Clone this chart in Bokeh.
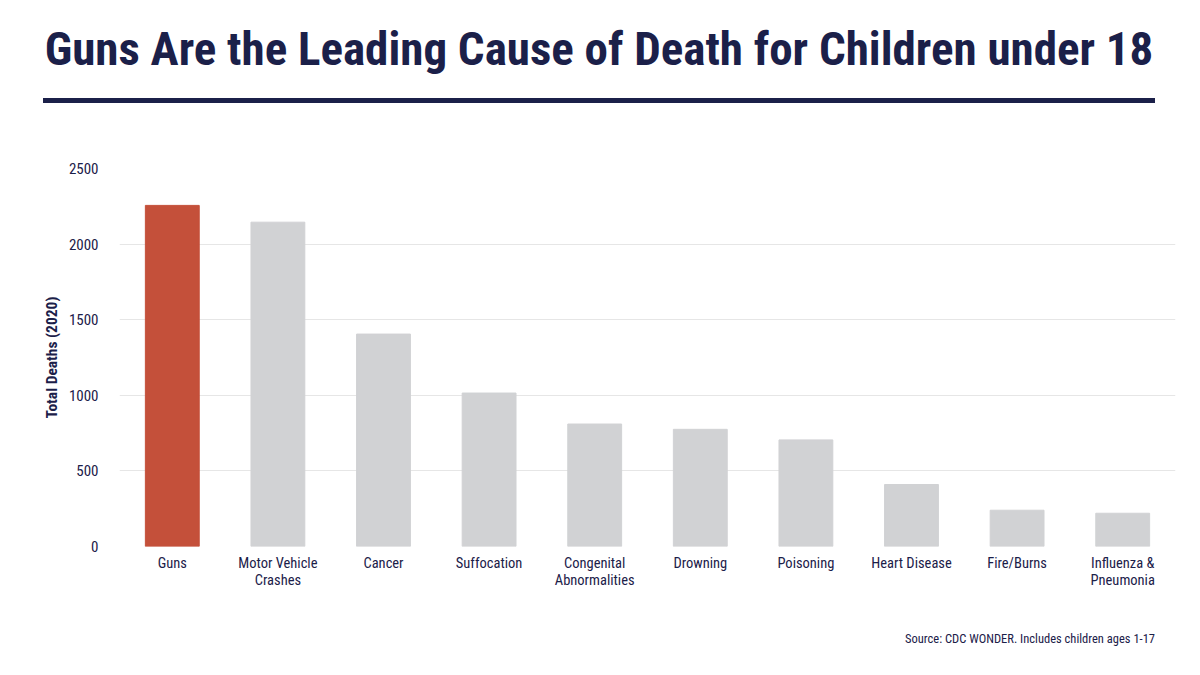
from bokeh.plotting import figure
from bokeh.models import ColumnDataSource, SingleIntervalTicker, Div
from bokeh.layouts import column
from bokeh.embed import file_html
from bokeh.resources import INLINE

categories = ["Guns", "Motor Vehicle\nCrashes", "Cancer", "Suffocation", "Congenital\nAbnormalities",
              "Drowning", "Poisoning", "Heart Disease", "Fire/Burns", "Influenza &\nPneumonia"]
deaths = [2256, 2145, 1405, 1015, 810, 775, 705, 410, 240, 220]
colors = ["#c4503a"] + ["#d1d2d4"] * 9
title_text = "Guns Are the Leading Cause of Death for Children under 18"
source_text = "Source: CDC WONDER. Includes children ages 1-17"
y_label = "Total Deaths (2020)"

NAVY = "#1b2049"
FONT = "'Liberation Sans Narrow', 'Roboto Condensed', Roboto, sans-serif"
W = 1184

# header: title + rule
header = Div(
    text=(f'<div style="position:relative;left:-5px;top:-5px;margin-left:43px;width:1112px;'
          f'height:103px;box-sizing:border-box;'
          f'border-bottom:5px solid {NAVY};text-align:center;font-family:{FONT};'
          f'font-weight:bold;font-size:47px;line-height:98px;color:{NAVY};white-space:nowrap;">'
          f'{title_text}</div>'),
    width=W, height=99)

# main chart
src = ColumnDataSource(dict(cat=categories, val=deaths, color=colors))
p = figure(x_range=categories, y_range=(0, 2500), width=W, height=500,
           output_backend="svg", toolbar_location=None,
           min_border_left=119, min_border_right=9, min_border_top=59, min_border_bottom=63)
p.vbar(x="cat", top="val", width=0.51, color="color", source=src)

p.outline_line_color = None
p.border_fill_color = "white"
p.xgrid.grid_line_color = None
p.ygrid.grid_line_color = "#e6e6e6"

p.yaxis.ticker = SingleIntervalTicker(interval=500)
p.yaxis.axis_line_color = None
p.yaxis.major_tick_line_color = None
p.yaxis.minor_tick_line_color = None
p.yaxis.major_label_text_font = FONT
p.yaxis.major_label_text_font_size = "15px"
p.yaxis.major_label_text_color = NAVY
p.yaxis.major_label_standoff = 15
p.yaxis.axis_label = y_label
p.yaxis.axis_label_text_font = FONT
p.yaxis.axis_label_text_font_style = "bold"
p.yaxis.axis_label_text_font_size = "15.5px"
p.yaxis.axis_label_text_color = NAVY
p.yaxis.axis_label_standoff = 5

p.xaxis.axis_line_color = None
p.xaxis.major_tick_line_color = None
p.xaxis.major_label_text_font = FONT
p.xaxis.major_label_text_font_size = "14.5px"
p.xaxis.major_label_text_color = NAVY
p.xaxis.major_label_text_line_height = 1.0
p.xaxis.major_label_standoff = 2

# footer: source
footer = Div(
    text=(f'<div style="width:1150px;text-align:right;font-family:{FONT};font-size:12.5px;'
          f'line-height:50px;color:{NAVY};white-space:nowrap;">{source_text}</div>'),
    width=W, height=49)

layout = column(header, p, footer, spacing=0)
open("out.html", "w").write(file_html(layout, INLINE))
